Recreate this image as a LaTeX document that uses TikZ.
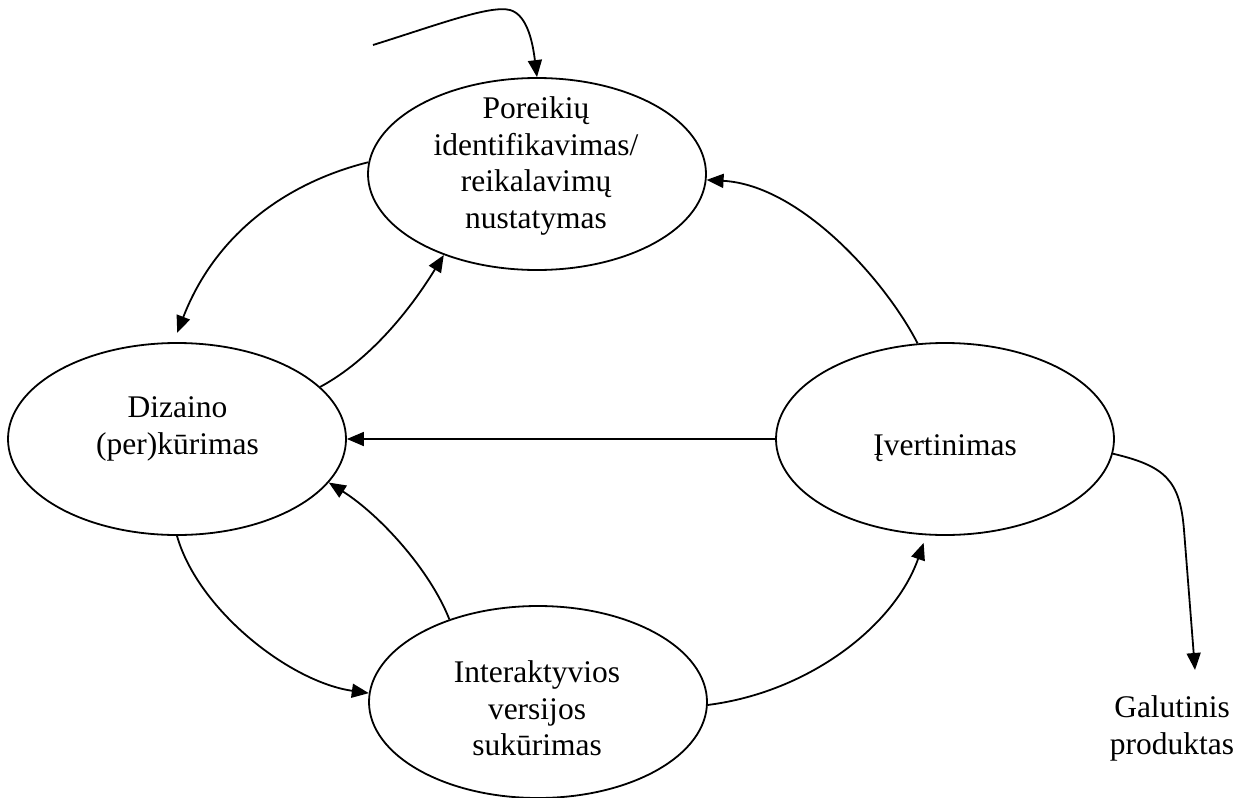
\documentclass[tikz,border=0pt]{standalone}
\usepackage{fontspec}
\setmainfont{Liberation Serif}[Ligatures=NoCommon]
\usetikzlibrary{shapes.geometric,arrows.meta}
\begin{document}
\begin{tikzpicture}[x=1pt,y=-1pt,
  stage/.style={draw,ellipse,line width=1.8pt,minimum width=338pt,minimum height=192pt,inner sep=0pt},
  lbl/.style={font=\fontsize{31.5}{36.5}\selectfont,align=center,inner sep=0pt},
  flow/.style={line width=1.8pt,-{Triangle[length=17pt,width=14pt]}}
]
\useasboundingbox (0,0) rectangle (1251,798);
\node[stage] (A) at (537,174) {};
\node[stage] (B) at (177,439) {};
\node[stage] (C) at (945,439) {};
\node[stage] (D) at (538,702) {};
\node[lbl,anchor=north] (tA) at (536,96.5) {Poreikių\\identifikavimas/\\reikalavimų\\nustatymas};
\node[lbl,anchor=north] (tB) at (177.5,396.5) {Dizaino\\(per)kūrimas};
\node[lbl,anchor=base] (tC) at (945,455) {Įvertinimas};
\node[lbl,anchor=north] (tD) at (537,660.5) {Interaktyvios\\versijos\\sukūrimas};
\node[lbl,anchor=north] (G) at (1172,695.5) {Galutinis\\produktas};
\coordinate (src) at (373,45);
\coordinate (gout) at (1195,670);
\draw[flow] (src) .. controls (440,24) and (490,5) .. (510,10) .. controls (528,15) and (533,45) .. (A.north);
\draw[flow,shorten >=10pt] (A.176) .. controls (285,183) and (215,235) .. (B.92);
\draw[flow] (B.20) .. controls (370,360) and (410,310) .. (A.221);
\draw[flow] (C.106) .. controls (885,280) and (800,185) .. (A.358);
\draw[flow] (C.west) -- (B.east);
\draw[flow] (D.137) .. controls (430,570) and (380,515) .. (B.-16);
\draw[flow] (B.south) .. controls (198,610) and (290,682) .. (D.177);
\draw[flow,shorten >=8pt] (D.-1) .. controls (810,692) and (895,625) .. (C.259);
\draw[flow] (C.-5) .. controls (1165,466) and (1180,480) .. (1184,530) -- (gout);
\end{tikzpicture}
\end{document}
